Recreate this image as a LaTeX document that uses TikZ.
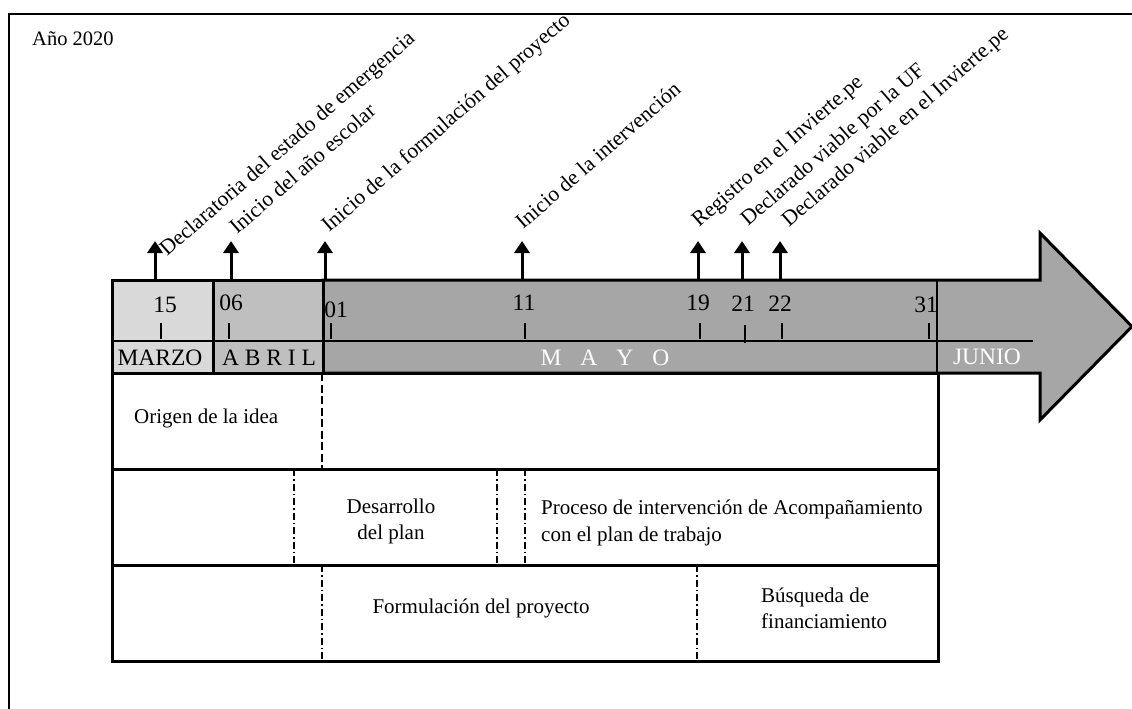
\documentclass[tikz,border=0pt]{standalone}
\usepackage{fontspec}
\setmainfont{Liberation Serif}
\usetikzlibrary{arrows.meta}
\definecolor{gMarzo}{HTML}{D9D9D9}
\definecolor{gAbril}{HTML}{BFBFBF}
\definecolor{gMayo}{HTML}{A6A6A6}
\begin{document}
\begin{tikzpicture}[x=1pt,y=-1pt,
  txt/.style={font=\fontsize{21}{26}\selectfont, inner sep=0pt},
  bigtxt/.style={font=\fontsize{23.5}{28}\selectfont, inner sep=0pt},
  rotlabel/.style={font=\fontsize{21.6}{26}\selectfont, inner sep=0pt, rotate=41, anchor=base west},
  evarrow/.style={line width=3pt, -{Triangle[width=15pt,length=12pt]}},
  boxline/.style={line width=3pt},
  thinline/.style={line width=1.5pt},
  dashline/.style={line width=1.3pt, dash pattern=on 8pt off 3.5pt},
  dashdotline/.style={line width=1.2pt, dash pattern=on 7pt off 3pt on 1.5pt off 3pt},
  whitetxt/.style={bigtxt, text=white}
  ]
\useasboundingbox (0,0) rectangle (1132,709);
% frame
\draw[line width=2.5pt] (9,712) -- (9,14) -- (1135,14);
\node[txt, anchor=base west, font=\fontsize{20.5}{24}\selectfont] (year) at (32,46) {Año 2020};

% arrow body (MAYO / JUNIO)
\draw[boxline, fill=gMayo, line join=miter]
  (323,280) -- (1040,280) -- (1040,233) -- (1132,326.5) -- (1040,420) -- (1040,373) -- (323,373) -- cycle;
% MARZO and ABRIL
\draw[boxline, fill=gMarzo] (112,280) rectangle (213,373);
\draw[boxline, fill=gAbril] (213,280) rectangle (323,373);
% middle line and month divider
\draw[thinline] (112,341) -- (1033,341);
\draw[thinline] (937,280) -- (937,373);

% ticks
\foreach \x in {161,229,331,525,700,782,929} \draw[thinline] (\x,323) -- (\x,339);
\draw[thinline] (745,325) -- (745,343);

% day numbers
\node[bigtxt] (d15) at (165,305) {15};
\node[bigtxt] (d06) at (231,303) {06};
\node[bigtxt] (d01) at (336,310) {01};
\node[bigtxt] (d11) at (524,303) {11};
\node[bigtxt] (d19) at (698,303) {19};
\node[bigtxt] (d21) at (743,304) {21};
\node[bigtxt] (d22) at (780,304) {22};
\node[bigtxt] (d31) at (926,305) {31};

% months
\node[bigtxt] (marzo) at (160,358) {MARZO};
\node[bigtxt] (abril) at (269,358) {A B R I L};
\node[whitetxt] (mayo) at (605,358) {M\hspace{19pt}A\hspace{19pt}Y\hspace{19pt}O};
\node[whitetxt] (junio) at (987,357) {JUNIO};

% event arrows
\foreach \n/\x in {a/155,b/231,c/325,d/522,e/698,f/742,g/780}{
  \coordinate (base\n) at (\x,280);
  \coordinate (tip\n) at (\x,241);
  \draw[evarrow] (base\n) -- (tip\n);
}
\node[rotlabel] (la) at (167,257) {Declaratoria del estado de emergencia};
\node[rotlabel] (lb) at (237,235) {Inicio del año escolar};
\node[rotlabel] (lc) at (329,233) {Inicio de la formulación del proyecto};
\node[rotlabel] (ld) at (523,230) {Inicio de la intervención};
\node[rotlabel] (le) at (699,228) {Registro en el Invierte.pe};
\node[rotlabel] (lf) at (748,227) {Declarado viable por la UF};
\node[rotlabel] (lg) at (789,228) {Declarado viable en el Invierte.pe};

% lower boxes
\draw[boxline] (112,373) rectangle (938,469);
\draw[boxline] (112,469) rectangle (938,565);
\draw[boxline] (112,565) rectangle (938,661);

\draw[dashline] (322,373) -- (322,469);
\draw[dashdotline] (294,469) -- (294,565);
\draw[dashdotline] (497,469) -- (497,565);
\draw[dashdotline] (525,469) -- (525,565);
\draw[dashdotline] (322,565) -- (322,661);
\draw[dashdotline] (697,565) -- (697,661);

\node[txt, anchor=base west] (origen) at (134,423) {Origen de la idea};
\node[txt, anchor=base] (desA) at (391,513) {Desarrollo};
\node[txt, anchor=base] (desB) at (391,539) {del plan};
\node[txt, anchor=base west] (proA) at (541,514) {Proceso de intervención de Acompañamiento};
\node[txt, anchor=base west] (proB) at (541,541) {con el plan de trabajo};
\node[txt, anchor=base] (formu) at (481,613) {Formulación del proyecto};
\node[txt, anchor=base west] (busA) at (761,602) {Búsqueda de};
\node[txt, anchor=base west] (busB) at (761,628) {financiamiento};
\end{tikzpicture}
\end{document}
